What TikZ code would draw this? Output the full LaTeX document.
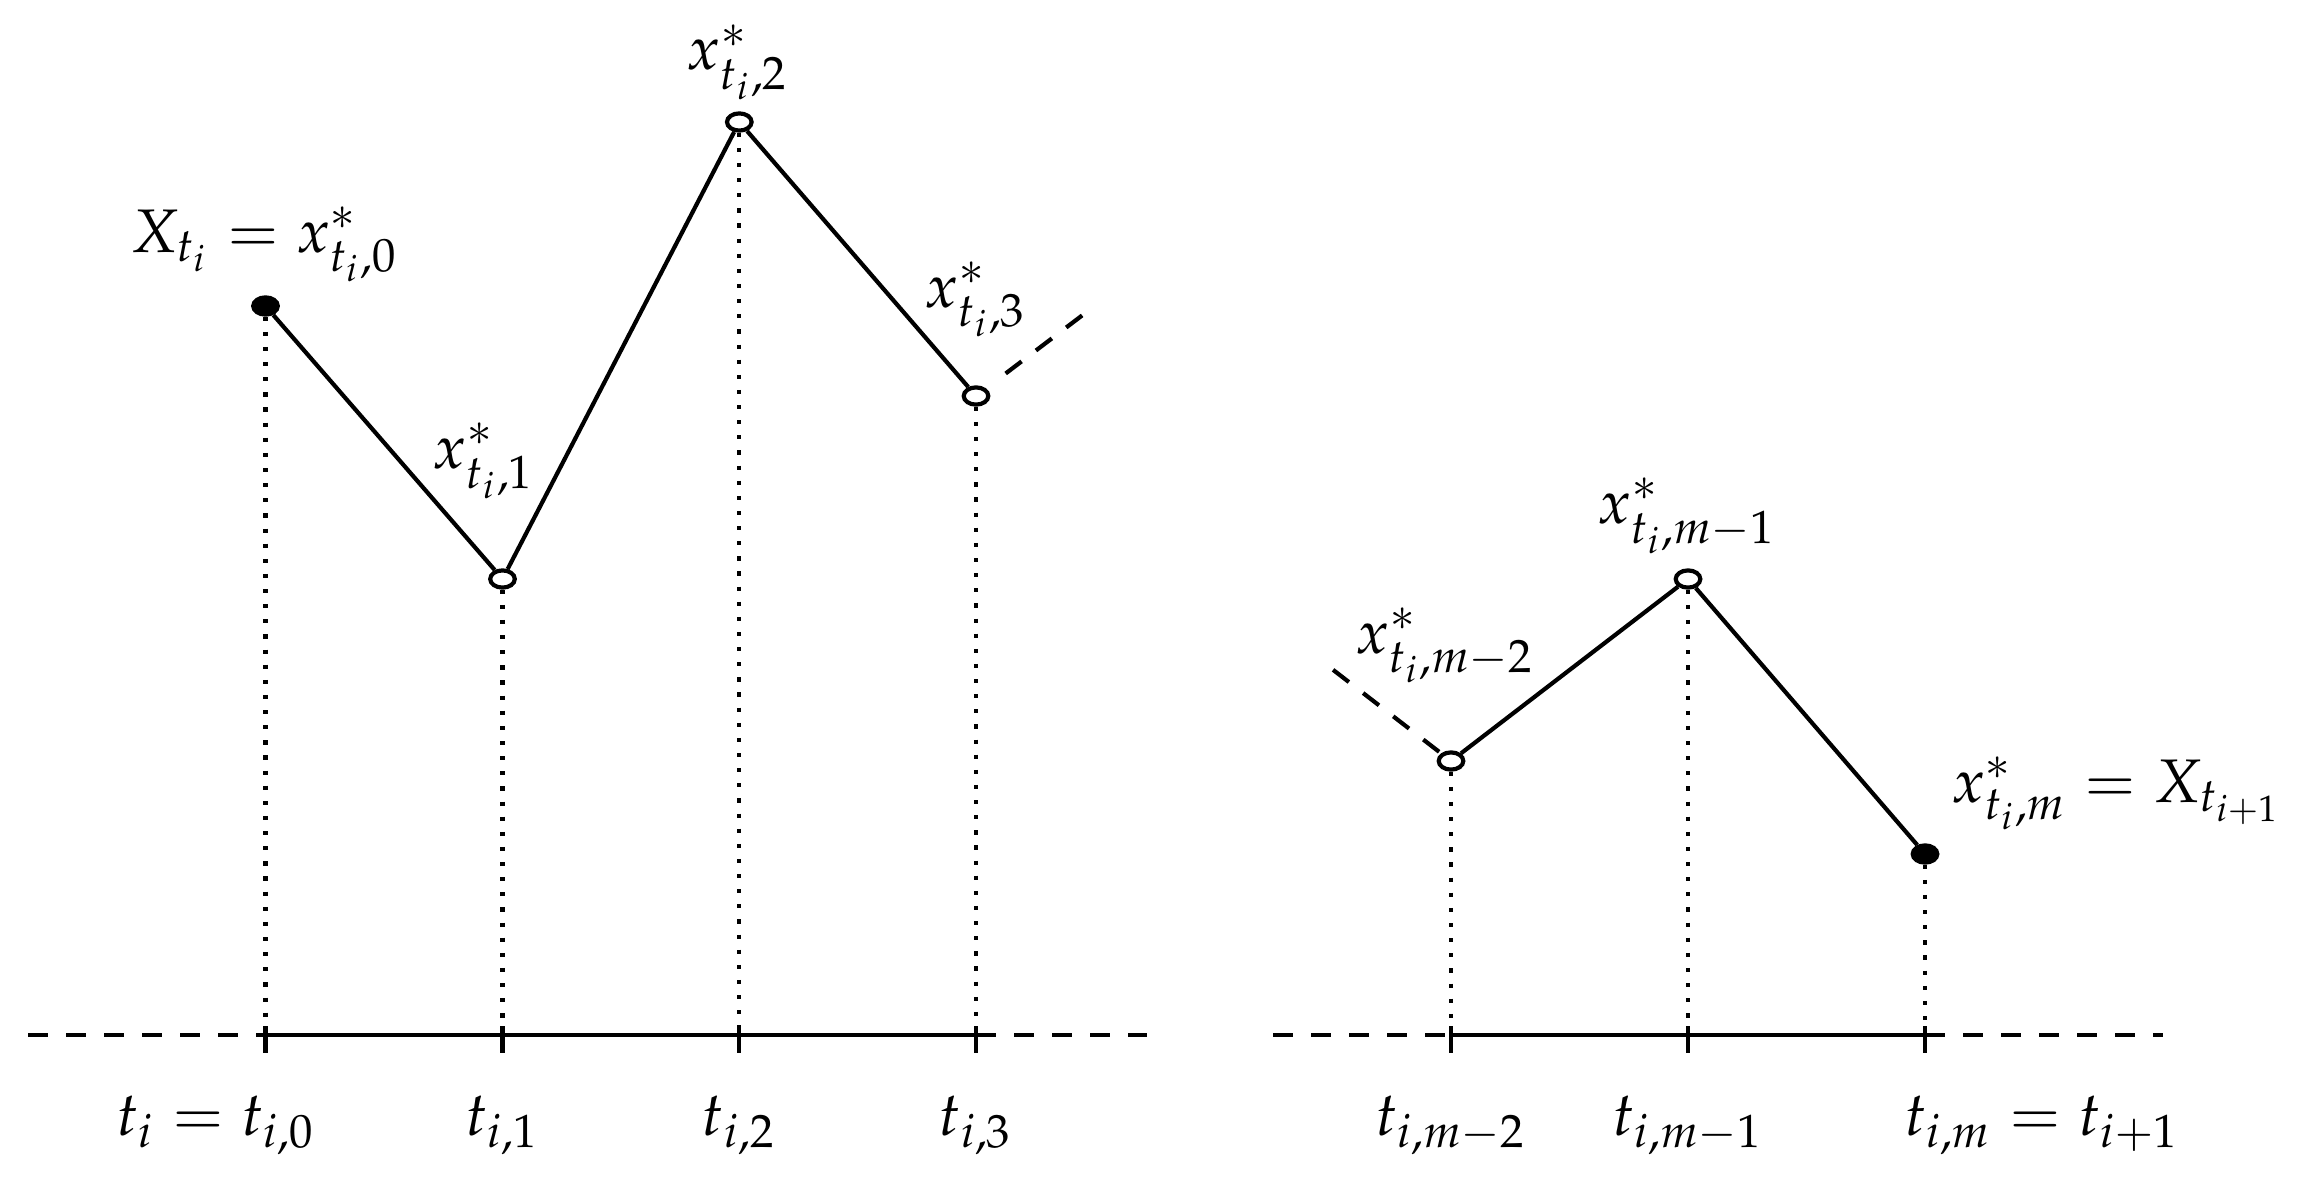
\documentclass[tikz,border=0pt]{standalone}
\usepackage{mathpazo}
\usetikzlibrary{shapes.geometric}
\begin{document}
\begin{tikzpicture}[x=0.1626pt,y=-0.1626pt,
  seg/.style={line width=0.68pt},
  opt/.style={ellipse,draw,line width=0.68pt,fill=white,minimum width=4.0pt,minimum height=2.8pt,inner sep=0pt},
  fpt/.style={opt,fill=black},
  dotline/.style={line width=0.68pt,dash pattern=on 0.68pt off 1.78pt},
  dashline/.style={line width=0.68pt,dash pattern=on 3.25pt off 2.93pt},
  lab/.style={inner sep=0pt,anchor=base}]
\useasboundingbox (0,0) rectangle (2307,1186);
% axis coordinates
\coordinate (a0) at (28,1035);
\coordinate (t0) at (265.5,1035);
\coordinate (t1) at (502.5,1035);
\coordinate (t2) at (739.3,1035);
\coordinate (t3) at (976,1035);
\coordinate (a1) at (1147,1035);
\coordinate (a2) at (1273,1035);
\coordinate (tm2) at (1451,1035);
\coordinate (tm1) at (1688,1035);
\coordinate (tm) at (1925,1035);
\coordinate (a3) at (2163,1035);
% points
\node[fpt] (p0) at (265.5,306) {};
\node[opt] (p1) at (502.5,579) {};
\node[opt] (p2) at (739.3,122) {};
\node[opt] (p3) at (976,396) {};
\node[opt] (pm2) at (1451,761) {};
\node[opt] (pm1) at (1688,579) {};
\node[fpt] (pm) at (1925,854) {};
\coordinate (e3) at (1084,314);
\coordinate (em2) at (1332,669);
% axes
\draw[dashline] (a0) -- (t0);
\draw[seg] (t0) -- (t3);
\draw[dashline] (t3) -- (a1);
\draw[dashline] (a2) -- (tm2);
\draw[seg] (tm2) -- (tm);
\draw[dashline] (tm) -- (a3);
\foreach \t in {t0,t1,t2,t3,tm2,tm1,tm}
  \draw[seg] (\t) ++(0,-9) -- ++(0,27);
% dotted verticals
\draw[dotline] (p0.south) -- (t0);
\draw[dotline] (p1.south) -- (t1);
\draw[dotline] (p2.south) -- (t2);
\draw[dotline] (p3.south) -- (t3);
\draw[dotline] (pm2.south) -- (tm2);
\draw[dotline] (pm1.south) -- (tm1);
\draw[dotline] (pm.south) -- (tm);
% path
\draw[seg] (p0) -- (p1);
\draw[seg] (p1) -- (p2);
\draw[seg] (p2) -- (p3);
\draw[dashline,shorten <=4.0pt] (p3) -- (e3);
\draw[dashline,shorten <=0.4pt] (pm2) -- (em2);
\draw[seg] (pm2) -- (pm1);
\draw[seg] (pm1) -- (pm);
% labels
\node[lab] (l0) at (264.5,252) {$X_{t_i} = x^*_{t_i,0}$};
\node[lab] (l1) at (484,468) {$x^*_{t_i,1}$};
\node[lab] (l2) at (738,70) {$x^*_{t_i,2}$};
\node[lab] (l3) at (976,307) {$x^*_{t_i,3}$};
\node[lab] (lm2) at (1445,653) {$x^*_{t_i,m-2}$};
\node[lab] (lm1) at (1687,523) {$x^*_{t_i,m-1}$};
\node[lab,anchor=base west] (lm) at (1950,802) {$x^*_{t_i,m} = X_{t_{i+1}}$};
\node[lab,anchor=base east] (b0) at (317,1135) {$t_i = t_{i,0}$};
\node[lab] (b1) at (502.5,1135) {$t_{i,1}$};
\node[lab] (b2) at (739.3,1135) {$t_{i,2}$};
\node[lab] (b3) at (976,1135) {$t_{i,3}$};
\node[lab] (bm2) at (1451,1135) {$t_{i,m-2}$};
\node[lab] (bm1) at (1688,1135) {$t_{i,m-1}$};
\node[lab,anchor=base west] (bm) at (1903,1135) {$t_{i,m} = t_{i+1}$};
\end{tikzpicture}
\end{document}
